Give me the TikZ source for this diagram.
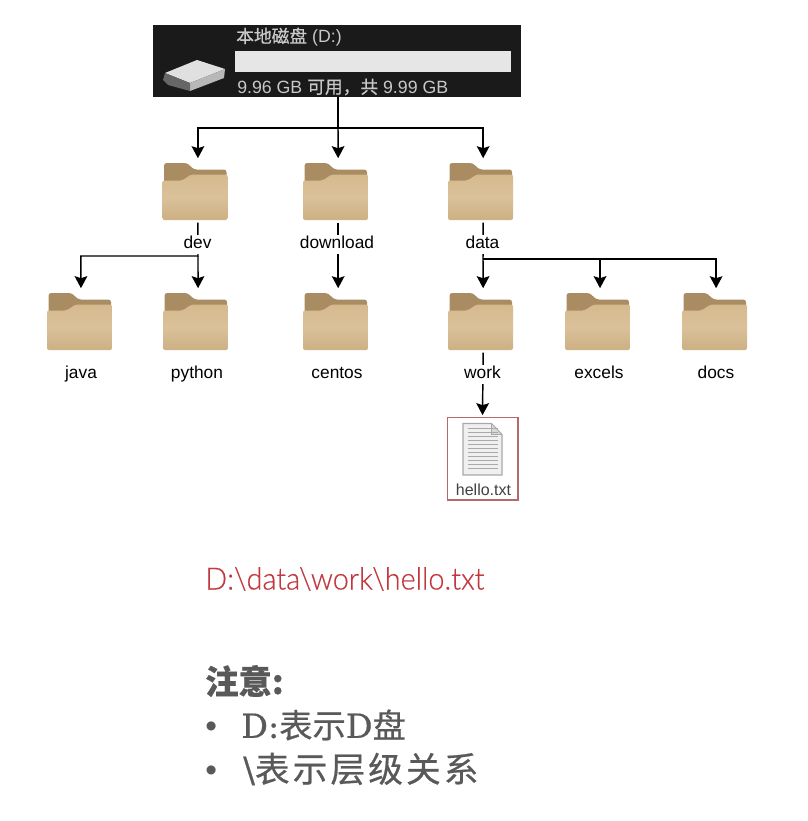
\documentclass[tikz,border=0pt]{standalone}
\usepackage{fontspec}
\usetikzlibrary{positioning,arrows.meta,calc}
\setmainfont{Liberation Sans}
\newfontfamily\cjk[FakeBold=0.6]{Noto Sans CJK SC}
\newfontfamily\cjkwide[FakeBold=0.6,LetterSpace=9]{Noto Sans CJK SC}
\newfontfamily\latinnote[FakeBold=0.5]{DejaVu Serif}
\newfontfamily\pathfont[FakeStretch=0.94,FakeBold=0.4]{Lato Light}
\definecolor{diskbg}{HTML}{1A1A1A}
\definecolor{disktxt}{HTML}{C8C8C8}
\definecolor{diskbar}{HTML}{E6E6E6}
\definecolor{foldback}{HTML}{A98C62}
\definecolor{foldtop}{HTML}{D6BA8E}
\definecolor{foldlow}{HTML}{CDB083}
\definecolor{fileline}{HTML}{A9A9A9}
\definecolor{pathred}{HTML}{C2383F}
\definecolor{boxred}{HTML}{B4696C}
\definecolor{notegray}{HTML}{595959}
\newcommand{\foldart}{%
  \begin{scope}[shift={(path picture bounding box.center)}]
    \fill[foldback,rounded corners=2pt] (-31,-28.5) -- (-8,-28.5) -- (-1,-22) -- (31.5,-22) -- (31.5,0) -- (-31,0) -- cycle;
    \shade[top color=foldtop,bottom color=foldlow,middle color=foldtop!90!white,rounded corners=1.5pt]
      (-32.5,-11) -- (-13,-11) -- (-4,-17) -- (32.5,-17) -- (32.5,28.5) -- (-32.5,28.5) -- cycle;
  \end{scope}}
\newcommand{\fileart}{%
  \begin{scope}[shift={(path picture bounding box.center)}]
    \draw[fileline,fill=white!94!black,line width=0.8pt] (-19.5,-35) -- (9,-35) -- (19.5,-24) -- (19.5,16.5) -- (-19.5,16.5) -- cycle;
    \draw[fileline,fill=white!85!black,line width=0.5pt] (9,-35) -- (9,-24) -- (19.5,-24) -- cycle;
    \foreach \ly in {-30,-26,-22,-18,-14,-10,-6,-2,2,6,10}
      \draw[fileline,line width=0.5pt] (-15,\ly) -- (15,\ly);
  \end{scope}}
\newcommand{\notedot}{{\rmfamily\fontsize{25}{25}\selectfont\textbullet}}
\begin{document}
\begin{tikzpicture}[
  x=0.75pt,y=-0.75pt,
  folder/.style={minimum width=48.75pt,minimum height=42.75pt,inner sep=0pt,outer sep=0pt,
                 path picture={\foldart}},
  lab/.style={fill=white,inner sep=1pt,text height=9.5pt,text depth=2.8pt,font=\fontsize{13}{15}\selectfont},
  disktext/.style={anchor=west,inner sep=0pt,text=disktxt,font=\fontsize{13.3}{15}\selectfont},
  note/.style={anchor=west,inner sep=0pt,text=notegray},
  arr/.style={-{Stealth[length=9pt,width=9.5pt,inset=1.5pt]},draw=black,line width=1.1pt,
              shorten >=3.6pt},
  stub/.style={shorten <=2pt},
]
\useasboundingbox (0,0) rectangle (807,821);

% Disk header
\node[fill=diskbg,minimum width=276pt,minimum height=54pt,inner sep=0pt,outer sep=0pt] (disk) at (337,61) {};
\node[fill=diskbar,minimum width=207pt,minimum height=16pt,inner sep=0pt] (bar) at (373,61.5) {};
\node[disktext] (diskname) at (236,37) {{\cjk 本地磁盘} (D:)};
\node[disktext] (diskfree) at (237,87) {9.96 GB {\cjk 可用，共} 9.99 GB};
% Drive icon
\fill[white!88!black] (165,73) -- (197,60) -- (225,69) -- (190,83) -- cycle;
\fill[white!72!black] (190,83) -- (225,69) -- (224,78) -- (190,91) -- cycle;
\fill[white!40!black] (165,73) -- (190,83) -- (190,91) -- (168,85) -- (163,80) -- cycle;

% Folders
\node[folder] (dev) at (195,191.5) {};
\node[folder] (download) at (335.5,191.5) {};
\node[folder] (data) at (480.5,191.5) {};
\node[folder] (java) at (79.5,321.5) {};
\node[folder] (python) at (195.5,321.5) {};
\node[folder] (centos) at (335.5,321.5) {};
\node[folder] (work) at (480.5,321.5) {};
\node[folder] (excels) at (597.5,321.5) {};
\node[folder] (docs) at (714.5,321.5) {};

% The file, in its red box
\node[draw=boxred,line width=1pt,minimum width=53pt,minimum height=62pt,inner sep=0pt,
      path picture={\fileart}] (hello) at (482.5,458.5) {};

% Bus points of the tree
\coordinate (rootbus) at (338,128);
\coordinate (devbus) at (198,256);
\coordinate (databus) at (483,259);

% Arrows
\draw[arr] (disk.south -| rootbus) -- (rootbus) -| ([xshift=2.2pt]dev.north);
\draw[arr] (rootbus) -- ([xshift=2pt]download.north);
\draw[arr] (rootbus) -| ([xshift=2pt]data.north);
\draw[arr,stub] ([xshift=2.2pt]dev.south) -- (devbus) -| ([xshift=1.1pt]java.north);
\draw[arr] (devbus) -- ([xshift=1.9pt]python.north);
\draw[arr,stub] ([xshift=2pt]download.south) -- ([xshift=2pt]centos.north);
\draw[arr,stub] ([xshift=2pt]data.south) -- (databus) -- ([xshift=2pt]work.north);
\draw[arr] (databus) -| ([xshift=1.9pt]excels.north);
\draw[arr] (databus) -| ([xshift=1.2pt]docs.north);
\draw[arr,stub,shorten >=1pt] ([xshift=2pt]work.south) -- (hello.north);

% Labels sit over the lines
\node[lab] (devlab) at (197.5,244.5) {dev};
\node[lab] (downloadlab) at (337,244.5) {download};
\node[lab] (datalab) at (482.5,244.5) {data};
\node[lab] (javalab) at (81,374.5) {java};
\node[lab] (pythonlab) at (197,374.5) {python};
\node[lab] (centoslab) at (337,374.5) {centos};
\node[lab] (worklab) at (482.5,374.5) {work};
\node[lab] (excelslab) at (599,374.5) {excels};
\node[lab] (docslab) at (716,374.5) {docs};
\node[inner sep=0pt,font=\fontsize{12}{14}\selectfont,text=black!75] (hellolab) at (483.5,489.5) {hello.txt};

% Path and notes
\node[anchor=west,inner sep=0pt,text=pathred,font=\pathfont\fontsize{23}{28}\selectfont] (pathtxt) at (205,579) {D:\textbackslash data\textbackslash work\textbackslash hello.txt};
\node[note,font=\cjk\bfseries\fontsize{25}{28}\selectfont] (notehead) at (205,681) {注意:};
\node[note,font=\cjk\fontsize{25}{28}\selectfont] (noteone) at (205,725) {\makebox[27pt][l]{\notedot}{\latinnote D:}表示{\latinnote D}盘};
\node[note,font=\cjkwide\fontsize{26}{30}\selectfont] (notetwo) at (205,769) {\makebox[28.5pt][l]{\notedot}{\latinnote\textbackslash}表示层级关系};
\end{tikzpicture}
\end{document}
